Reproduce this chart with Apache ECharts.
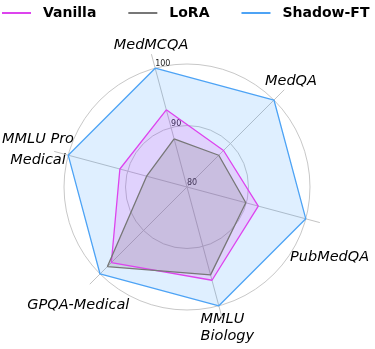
<!DOCTYPE html>
<html>
<head>
<meta charset="utf-8">
<script src="https://cdn.jsdelivr.net/npm/echarts@6/dist/echarts.min.js"></script>
<style>
html, body { margin: 0; padding: 0; background: #fff; }
#chart { width: 375px; height: 349px; }
</style>
</head>
<body>
<div id="chart"></div>
<script>
// categories, clockwise from the top spoke
var categories = ['MedMCQA', 'MedQA', 'PubMedQA', 'MMLU\nBiology', 'GPQA-Medical', 'MMLU Pro\nMedical'];
var vanilla = [93.0, 88.4, 92.0, 95.7, 97.4, 91.3];
var lora = [88.1, 87.3, 89.9, 94.8, 98.3, 86.8];
var shadowFT = [100, 100, 100, 100, 100, 100];
var radialTicks = [80, 90, 100];

// close the polygon by repeating the first value at the last angle
function loop(vals) {
    var d = vals.map(function (v, i) { return [v, i]; });
    d.push([vals[0], vals.length]);
    return d;
}

var nameFont = { fontFamily: 'DejaVu Sans', fontStyle: 'italic', fontSize: 14.5, color: '#000', lineHeight: 17 };
function nm(extra) { return Object.assign({}, nameFont, extra); }

// per-label nudges so the names sit where the original puts them
var nameRich = {
    n0_0: nm({ padding: [0, 31.6, 116.4, 0] }),
    n1_0: nm({ padding: [0, 0, 84.6, 22.8] }),
    n2_0: nm({ padding: [100.6, 0, 0, 27.7] }),
    n3_0: nm({ padding: [97.4, 0, 0, 40.3], align: 'left' }),
    n3_1: nm({ padding: [97.4, 0, 0, 40.3], align: 'left' }),
    n4_0: nm({ padding: [108.6, 2.5, 0, 0] }),
    n5_0: nm({ padding: [0, 37.7, 33.2, 0], align: 'center', lineHeight: 21 }),
    n5_1: nm({ padding: [0, 37.7, 33.2, 0], align: 'center', lineHeight: 21 })
};

var option = {
    animation: false,
    backgroundColor: '#fff',
    legend: {
        data: ['Vanilla', 'LoRA', 'Shadow-FT'],
        left: 2,
        top: 6,
        padding: 0,
        icon: 'rect',
        itemWidth: 29,
        itemHeight: 2,
        itemGap: 32,
        textStyle: {
            fontFamily: 'DejaVu Sans',
            fontWeight: 'bold',
            fontSize: 14,
            color: '#000',
            padding: [0, 0, 0, 7]
        }
    },
    polar: {
        center: [187, 187],
        radius: 137.5
    },
    angleAxis: {
        type: 'value',
        min: 0,
        max: categories.length,
        interval: 1,
        startAngle: 105,
        clockwise: true,
        axisLine: { show: false },
        axisTick: { show: false },
        splitLine: { show: true, lineStyle: { color: '#c4c4c4', width: 1 } },
        axisLabel: {
            margin: -59.5,
            formatter: function (v) {
                var name = categories[v];
                if (!name) return '';
                return name.split('\n').map(function (line, j) {
                    return '{n' + v + '_' + j + '|' + line + '}';
                }).join('\n');
            },
            rich: nameRich
        }
    },
    radiusAxis: {
        type: 'value',
        min: 80,
        max: 102.36,
        interval: 10,
        axisLine: { show: false },
        axisTick: { show: false },
        axisLabel: {
            fontFamily: 'DejaVu Sans',
            fontSize: 8,
            color: '#222',
            margin: 0,
            align: 'left',
            verticalAlign: 'bottom',
            formatter: function (v) {
                return radialTicks.indexOf(v) >= 0 ? String(v) : '';
            }
        },
        splitLine: {
            show: true,
            lineStyle: { color: ['#c8c8c8', '#c8c8c8', '#c8c8c8', 'rgba(0,0,0,0)'], width: 1 }
        }
    },
    series: [
        {
            name: 'Shadow-FT', type: 'line', coordinateSystem: 'polar',
            data: loop(shadowFT), symbol: 'none', color: '#4da3f5',
            lineStyle: { width: 1.3 },
            areaStyle: { color: '#1e90ff', opacity: 0.14 }
        },
        {
            name: 'Vanilla', type: 'line', coordinateSystem: 'polar',
            data: loop(vanilla), symbol: 'none', color: '#dd44ee',
            lineStyle: { width: 1.3 },
            areaStyle: { color: '#ee00ee', opacity: 0.12 }
        },
        {
            name: 'LoRA', type: 'line', coordinateSystem: 'polar',
            data: loop(lora), symbol: 'none', color: '#777777',
            lineStyle: { width: 1.3 },
            areaStyle: { color: '#707070', opacity: 0.2 }
        }
    ]
};

var chart = echarts.init(document.getElementById('chart'));
chart.setOption(option);
</script>
</body>
</html>
